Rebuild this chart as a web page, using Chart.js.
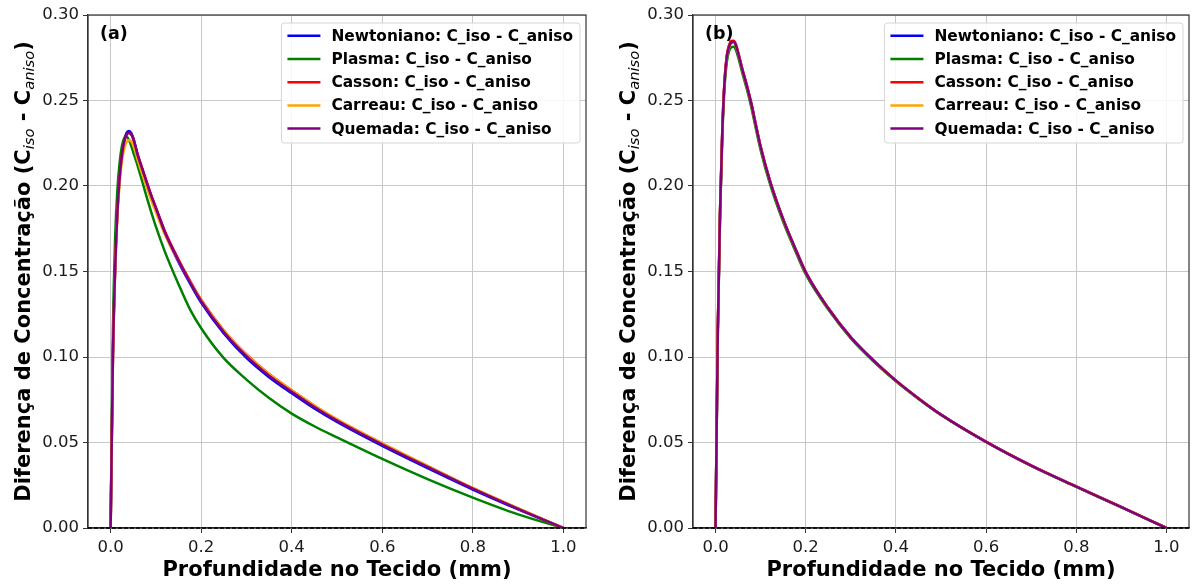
<!DOCTYPE html>
<html>
<head>
<meta charset="utf-8">
<script src="https://cdn.jsdelivr.net/npm/chart.js@4.4.0/dist/chart.umd.min.js"></script>
<style>
  body { margin: 0; background: #fff; }
  #wrap { position: relative; width: 1192px; height: 588px; }
  canvas { position: absolute; top: 0; }
</style>
</head>
<body>
<div id="wrap">
  <canvas id="chartA" width="600" height="588" style="left:0"></canvas>
  <canvas id="chartB" width="592" height="588" style="left:600px"></canvas>
</div>
<script>
// profundidade (mm)
const xs = [0, 0.005, 0.01, 0.015, 0.02, 0.025, 0.03, 0.035, 0.04, 0.045, 0.05, 0.06, 0.07, 0.08, 0.09, 0.1,
            0.12, 0.15, 0.175, 0.2, 0.25, 0.3, 0.35, 0.4, 0.45, 0.5, 0.6, 0.7, 0.8, 0.9, 1.0];

const names = ['Newtoniano', 'Plasma', 'Casson', 'Carreau', 'Quemada'];
const colors = ['#0000ff', '#008000', '#ff0000', '#ffa500', '#800080'];
const xTicks = [0, 0.2, 0.4, 0.6, 0.8, 1.0];
const yTicks = [0, 0.05, 0.10, 0.15, 0.20, 0.25, 0.30];

// painel (a)
const a_newt    = [0, 0.100, 0.153, 0.186, 0.206, 0.219, 0.2268, 0.2310, 0.2322, 0.2312, 0.2282, 0.2180, 0.2098, 0.2015, 0.1937, 0.1865, 0.1722, 0.1555, 0.1432, 0.1318, 0.1138, 0.0995, 0.0882, 0.0788, 0.0699, 0.0620, 0.0480, 0.0350, 0.0225, 0.0109, 0];
const a_plasma  = [0, 0.115, 0.170, 0.198, 0.214, 0.2235, 0.2280, 0.2290, 0.2272, 0.2238, 0.2197, 0.2115, 0.2025, 0.1932, 0.1845, 0.1762, 0.1615, 0.1425, 0.1280, 0.1168, 0.0993, 0.0868, 0.0760, 0.0669, 0.0595, 0.0530, 0.0404, 0.0286, 0.0178, 0.0080, 0];
const a_casson  = [0, 0.100, 0.152, 0.185, 0.205, 0.218, 0.2258, 0.2297, 0.2310, 0.2303, 0.2275, 0.2180, 0.2102, 0.2022, 0.1945, 0.1875, 0.1735, 0.1570, 0.1448, 0.1335, 0.1155, 0.1015, 0.0900, 0.0805, 0.0715, 0.0634, 0.0494, 0.0362, 0.0233, 0.0114, 0];
const a_carreau = [0, 0.098, 0.150, 0.183, 0.202, 0.2145, 0.2218, 0.2256, 0.2268, 0.2262, 0.2238, 0.2150, 0.2068, 0.1990, 0.1915, 0.1848, 0.1715, 0.1560, 0.1443, 0.1332, 0.1154, 0.1014, 0.0900, 0.0805, 0.0716, 0.0635, 0.0495, 0.0364, 0.0234, 0.0115, 0];
const a_quemada = [0, 0.100, 0.152, 0.185, 0.205, 0.218, 0.2260, 0.2300, 0.2312, 0.2304, 0.2276, 0.2178, 0.2098, 0.2017, 0.1940, 0.1870, 0.1728, 0.1562, 0.1440, 0.1326, 0.1146, 0.1005, 0.0891, 0.0797, 0.0708, 0.0628, 0.0488, 0.0357, 0.0230, 0.0112, 0];

// painel (b)
const b_newt    = [0, 0.115, 0.185, 0.232, 0.261, 0.2755, 0.2813, 0.2838, 0.2840, 0.2821, 0.2777, 0.2675, 0.2580, 0.2473, 0.2347, 0.2228, 0.2035, 0.1805, 0.1645, 0.1495, 0.1285, 0.1115, 0.0980, 0.0862, 0.0758, 0.0663, 0.0504, 0.0365, 0.0242, 0.0122, 0];
const b_plasma  = [0, 0.113, 0.182, 0.229, 0.258, 0.2725, 0.2788, 0.2812, 0.2815, 0.2797, 0.2755, 0.2655, 0.2560, 0.2452, 0.2327, 0.2210, 0.2018, 0.1790, 0.1632, 0.1484, 0.1277, 0.1109, 0.0975, 0.0858, 0.0755, 0.0661, 0.0503, 0.0364, 0.0241, 0.0121, 0];
const b_casson  = [0, 0.116, 0.186, 0.233, 0.262, 0.2765, 0.2825, 0.2848, 0.2850, 0.2830, 0.2785, 0.2680, 0.2585, 0.2478, 0.2352, 0.2232, 0.2038, 0.1808, 0.1648, 0.1498, 0.1287, 0.1117, 0.0981, 0.0863, 0.0759, 0.0664, 0.0505, 0.0366, 0.0243, 0.0123, 0];
const b_carreau = [0, 0.115, 0.185, 0.232, 0.261, 0.2752, 0.2811, 0.2836, 0.2838, 0.2819, 0.2775, 0.2673, 0.2578, 0.2471, 0.2345, 0.2227, 0.2034, 0.1804, 0.1644, 0.1494, 0.1285, 0.1115, 0.0980, 0.0862, 0.0758, 0.0663, 0.0504, 0.0365, 0.0242, 0.0122, 0];
const b_quemada = [0, 0.115, 0.185, 0.232, 0.261, 0.2755, 0.2815, 0.2840, 0.2843, 0.2823, 0.2778, 0.2675, 0.2580, 0.2473, 0.2347, 0.2228, 0.2035, 0.1805, 0.1645, 0.1495, 0.1285, 0.1115, 0.0980, 0.0862, 0.0758, 0.0663, 0.0504, 0.0365, 0.0242, 0.0122, 0];

const FONT = 'DejaVu Sans';

// moldura e linha tracejada em y=0
const framePlugin = {
  id: 'frame',
  afterDatasetsDraw(chart) {
    const {ctx, chartArea: a, scales: {y}} = chart;
    const y0 = y.getPixelForValue(0);
    ctx.save();
    ctx.strokeStyle = '#333';
    ctx.lineWidth = 1.2;
    ctx.strokeRect(a.left, a.top, a.right - a.left, a.bottom - a.top);
    ctx.strokeStyle = '#000';
    ctx.lineWidth = 1.6;
    ctx.setLineDash([4, 2]);
    ctx.beginPath();
    ctx.moveTo(a.left, y0);
    ctx.lineTo(a.right, y0);
    ctx.stroke();
    ctx.restore();
  }
};

// titulo do eixo y com subscritos, legenda e rótulo do painel
const decorPlugin = {
  id: 'decor',
  afterDraw(chart, args, opts) {
    const {ctx, chartArea: a} = chart;
    ctx.save();

    // rótulo (a)/(b)
    ctx.fillStyle = '#000';
    ctx.font = 'bold 17.5px "' + FONT + '"';
    ctx.textBaseline = 'middle';
    ctx.textAlign = 'left';
    ctx.fillText(opts.label, a.left + 12, a.top + 19);

    // titulo y
    const segs = [
      {t: 'Diferença de Concentração (C', f: 'bold 21px "' + FONT + '"', dy: 0},
      {t: 'iso', f: 'italic 14.7px "' + FONT + '"', dy: 4},
      {t: ' - C', f: 'bold 21px "' + FONT + '"', dy: 0},
      {t: 'aniso', f: 'italic 14.7px "' + FONT + '"', dy: 4},
      {t: ')', f: 'bold 21px "' + FONT + '"', dy: 0}
    ];
    let total = 0;
    segs.forEach(s => { ctx.font = s.f; s.w = ctx.measureText(s.t).width; total += s.w; });
    const cy = (a.top + a.bottom) / 2;
    ctx.translate(a.left - 58, cy);
    ctx.rotate(-Math.PI / 2);
    ctx.textBaseline = 'alphabetic';
    let x = -total / 2;
    segs.forEach(s => { ctx.font = s.f; ctx.fillText(s.t, x, s.dy); x += s.w; });
    ctx.setTransform(1, 0, 0, 1, 0, 0);

    // legenda
    const ds = chart.data.datasets;
    ctx.font = 'bold 15.4px "' + FONT + '"';
    let maxW = 0;
    ds.forEach(d => { maxW = Math.max(maxW, ctx.measureText(d.label).width); });
    const rowH = 23.2;
    const boxW = 6 + 33 + 11 + maxW + 7;
    const boxH = rowH * ds.length + 4;
    const bx = a.right - 6 - boxW;
    const by = a.top + 8;
    ctx.fillStyle = 'rgba(255,255,255,0.85)';
    ctx.strokeStyle = '#d6d6d6';
    ctx.lineWidth = 1;
    ctx.beginPath();
    ctx.roundRect(bx, by, boxW, boxH, 3);
    ctx.fill();
    ctx.stroke();
    ds.forEach((d, i) => {
      const ry = by + 12.8 + i * rowH;
      ctx.strokeStyle = d.borderColor;
      ctx.lineWidth = 2.5;
      ctx.beginPath();
      ctx.moveTo(bx + 6, ry);
      ctx.lineTo(bx + 39, ry);
      ctx.stroke();
      ctx.fillStyle = '#000';
      ctx.textBaseline = 'middle';
      ctx.fillText(d.label, bx + 50, ry + 1);
    });
    ctx.restore();
  }
};

function makePanel(id, label, series, yWidth, padRight) {
  const datasets = series.map((arr, i) => ({
    label: names[i] + ': C_iso - C_aniso',
    data: xs.map((x, j) => ({x: x, y: arr[j]})),
    borderColor: colors[i],
    backgroundColor: colors[i],
    borderWidth: 2.5,
    pointRadius: 0,
    fill: false,
    cubicInterpolationMode: 'monotone',
    order: series.length - i
  }));
  return new Chart(document.getElementById(id), {
    type: 'line',
    data: {datasets: datasets},
    plugins: [framePlugin, decorPlugin],
    options: {
      responsive: false,
      animation: false,
      layout: {padding: {top: 15, right: padRight, left: 0, bottom: 0}},
      plugins: {
        legend: {display: false},
        tooltip: {enabled: false},
        decor: {label: label}
      },
      scales: {
        x: {
          type: 'linear', min: -0.05, max: 1.05,
          afterBuildTicks: s => { s.ticks = xTicks.map(v => ({value: v})); },
          afterFit: s => { s.height = 60; },
          ticks: {
            callback: v => v.toFixed(1),
            font: {family: FONT, size: 16.5}, color: '#1a1a1a',
            padding: 5, maxRotation: 0, autoSkip: false
          },
          grid: {color: '#c8c8c8', lineWidth: 1, tickColor: '#333', tickLength: 5},
          border: {color: '#333', width: 1.2},
          title: {
            display: true, text: 'Profundidade no Tecido (mm)',
            font: {family: FONT, size: 21, weight: 'bold'}, color: '#000',
            padding: {top: 0, bottom: 5}
          }
        },
        y: {
          type: 'linear', min: 0, max: 0.3,
          afterBuildTicks: s => { s.ticks = yTicks.map(v => ({value: v})); },
          afterFit: s => { s.width = yWidth; },
          ticks: {
            callback: v => v.toFixed(2),
            font: {family: FONT, size: 16.5}, color: '#1a1a1a', padding: 4
          },
          grid: {color: '#c8c8c8', lineWidth: 1, tickColor: '#333', tickLength: 5},
          border: {color: '#333', width: 1.2}
        }
      }
    }
  });
}

makePanel('chartA', '(a)', [a_newt, a_plasma, a_casson, a_carreau, a_quemada], 88, 14);
makePanel('chartB', '(b)', [b_newt, b_plasma, b_casson, b_carreau, b_quemada], 93, 3);
</script>
</body>
</html>
